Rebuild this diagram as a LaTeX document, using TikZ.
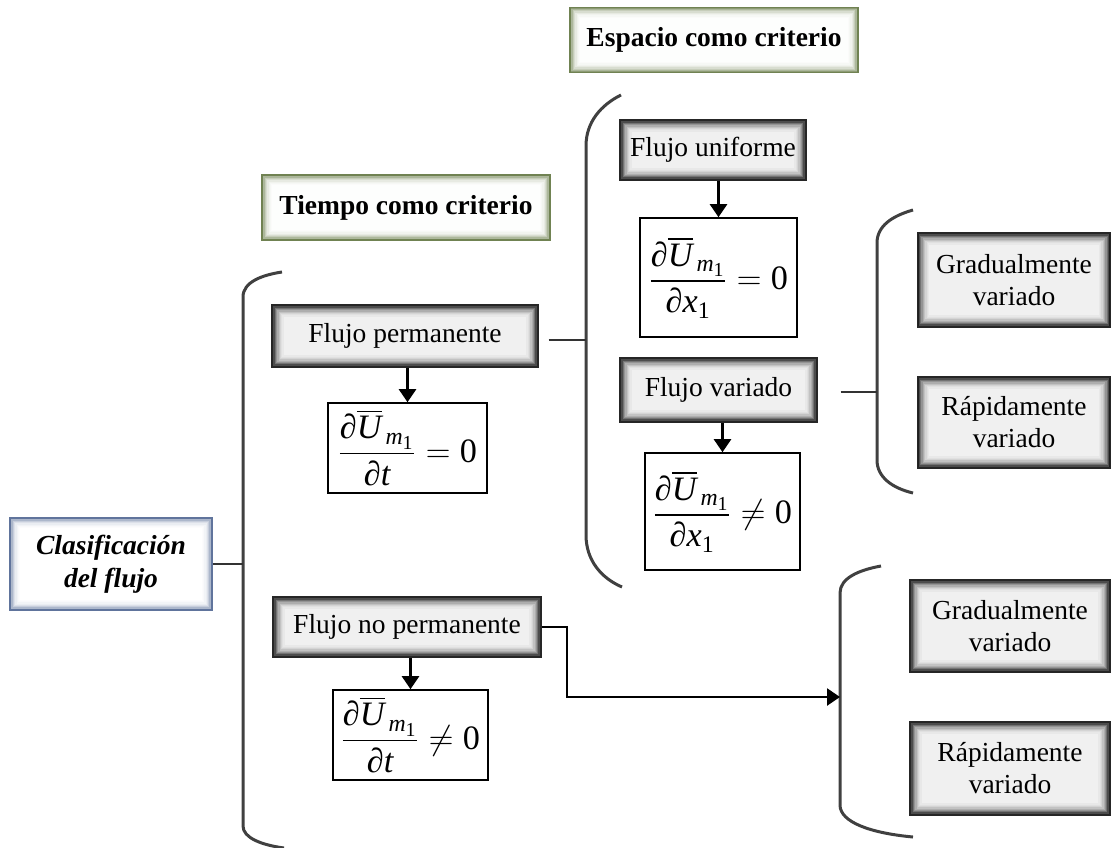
\documentclass[tikz,border=0pt]{standalone}
\usepackage{amsmath}
\usepackage{graphicx}
\usepackage{fontspec}
\setmainfont{Liberation Serif}
\usetikzlibrary{arrows.meta,calc}
\definecolor{olive}{RGB}{112,130,82}
\definecolor{slate}{RGB}{96,116,156}
\newcommand{\myrim}[2]{%
  \foreach \i/\c in {#2}{%
    \fill[#1!\c!white] ([shift={(\i*1.3pt,-\i*1.3pt)}]path picture bounding box.north west) rectangle ([shift={(-\i*1.3pt,\i*1.3pt)}]path picture bounding box.south east);
  }}
\newcommand{\pd}{\text{\upshape ∂}}
\newcommand{\Um}{\pd\overline{\mathit{U}}_{\,\mathit{m}_{\mathrm{1}}}}
\newcommand{\eqn}[2]{\scalebox{1.65}{$\displaystyle\frac{\Um}{\pd #1}#2\mathrm{0}$}}
\tikzset{
  txt/.style={font=\fontsize{27.5}{32}\selectfont, align=center, inner sep=0pt},
  graybox/.style={txt, draw=black!85, line width=1.2pt,
    path picture={\myrim{black}{0/88,1/70,2/55,3/42,4/32,5/24,6/17,7/12,8/9,9/6}}},
  greenbox/.style={txt, font=\fontsize{27.5}{32}\selectfont\bfseries, draw=olive, line width=1.8pt,
    path picture={\myrim{olive}{0/80,1/58,2/40,3/27,4/17,5/10,6/6,7/3,8/1}}},
  bluebox/.style={txt, font=\fontsize{27.5}{33}\selectfont\bfseries\itshape, draw=slate, line width=1.8pt,
    path picture={\myrim{slate}{0/75,1/52,2/35,3/22,4/13,5/8,6/4,7/2,8/0}}},
  eqbox/.style={draw=black, line width=1.6pt, fill=white, inner sep=0pt, font=\fontsize{20.74}{25}\selectfont},
  brace/.style={draw=black!75, line width=3pt},
  link/.style={draw=black!80, line width=2.5pt},
  arr/.style={draw=black, line width=2.5pt, -{Triangle[length=13pt,width=17pt]}}
}
\begin{document}
\begin{tikzpicture}[x=1pt,y=-1pt]
\useasboundingbox (0,0) rectangle (1111,847);

% title boxes
\node[greenbox, minimum width=288pt, minimum height=65pt] (esp) at (714,40) {Espacio como criterio};
\node[greenbox, minimum width=288pt, minimum height=65pt] (tie) at (406,207.5) {Tiempo como criterio};
\node[bluebox, minimum width=202pt, minimum height=92pt] (cla) at (111,564) {Clasificación\\del flujo};

% level 1
\node[graybox, minimum width=266pt, minimum height=62pt] (fp) at (405,336) {Flujo permanente};
\node[eqbox, minimum width=159pt, minimum height=90pt] (e1) at (407.5,448) {\eqn{\mathit{t}}{=}};
\node[graybox, minimum width=268pt, minimum height=60pt] (fnp) at (407,627) {Flujo no permanente};
\node[eqbox, minimum width=155pt, minimum height=90pt] (e4) at (410.5,735) {\eqn{\mathit{t}}{\neq}};

% level 2
\node[graybox, minimum width=186pt, minimum height=60pt] (fu) at (713,150) {Flujo uniforme};
\node[eqbox, minimum width=157pt, minimum height=119pt] (e2) at (718.5,277.5) {\eqn{\mathit{x}_{\mathrm{1}}}{=}};
\node[graybox, minimum width=197pt, minimum height=64pt] (fv) at (718.5,390) {Flujo variado};
\node[eqbox, minimum width=155pt, minimum height=117pt] (e3) at (722.5,511.5) {\eqn{\mathit{x}_{\mathrm{1}}}{\neq}};

% level 3
\node[graybox, minimum width=193pt, minimum height=94pt] (g1) at (1014,280) {Gradualmente\\variado};
\node[graybox, minimum width=193pt, minimum height=91pt] (r1) at (1014,422.5) {Rápidamente\\variado};
\node[graybox, minimum width=200pt, minimum height=92pt] (g2) at (1010,626) {Gradualmente\\variado};
\node[graybox, minimum width=200pt, minimum height=93pt] (r2) at (1010,768.5) {Rápidamente\\variado};

% braces
\coordinate (b1) at (243,560);
\coordinate (b2) at (586,340);
\coordinate (b3) at (877,392);
\coordinate (b4) at (840,697);
\coordinate (c1) at (567,697);
\draw[brace] (282,272) .. controls (262,275) and (243,282) .. (243,297) -- (243,826) .. controls (243,838) and (262,845) .. (284,848);
\draw[brace] (621,95) .. controls (601,105) and (586,122) .. (586,146) -- (586,535) .. controls (586,560) and (601,578) .. (622,587);
\draw[brace] (913,210) .. controls (892,216) and (877,226) .. (877,243) -- (877,460) .. controls (877,477) and (892,488) .. (913,493);
\draw[brace] (881,566) .. controls (859,570) and (840,578) .. (840,593) -- (840,805) .. controls (840,822) and (870,833) .. (913,837);

% connectors
\draw[link] (cla.east) -- (cla.east -| b1);
\draw[link] ([xshift=10pt]fp.east |- b2) -- (b2);
\draw[link] ([xshift=23pt]fv.east |- b3) -- (b3);
\draw[arr] (fnp.east) -| (c1) -- (b4);

\draw[arr] (e1.north |- fp.south) -- (e1.north);
\draw[arr] (e2.north |- fu.south) -- (e2.north);
\draw[arr] (e3.north |- fv.south) -- (e3.north);
\draw[arr] (e4.north |- fnp.south) -- (e4.north);
\end{tikzpicture}
\end{document}
